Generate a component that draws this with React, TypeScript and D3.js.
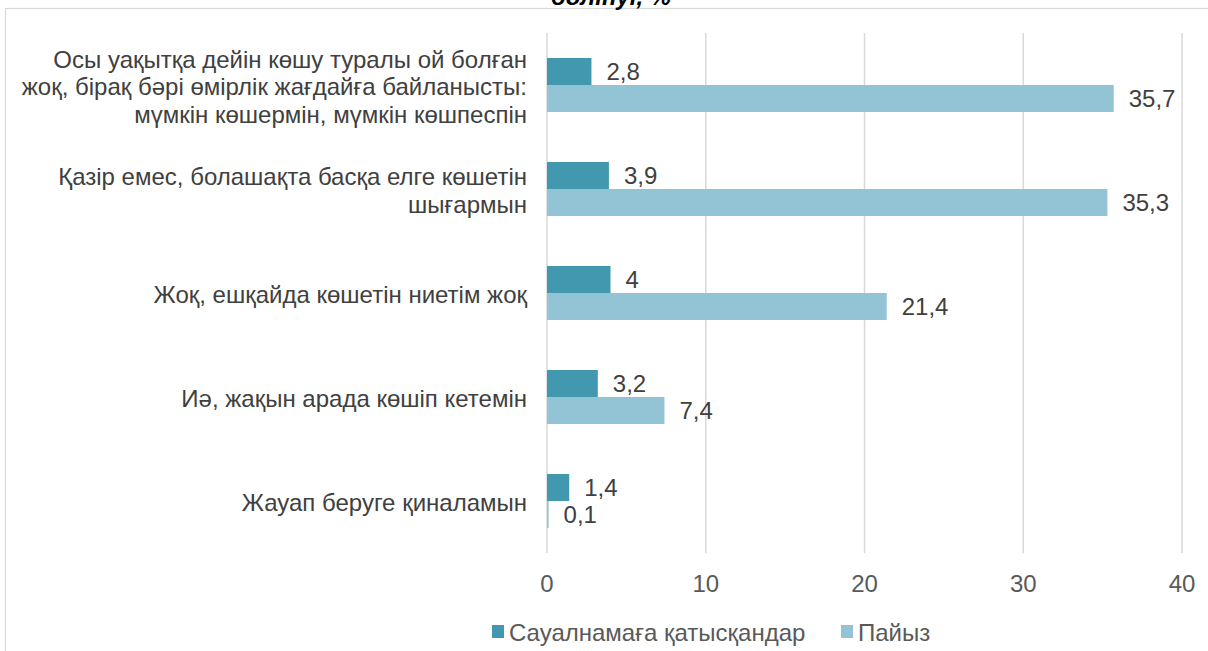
import * as d3 from "d3";

// категории сверху вниз
const categories = [
  ["Осы уақытқа дейін көшу туралы ой болған", "жоқ, бірақ бәрі өмірлік жағдайға байланысты:", "мүмкін көшермін, мүмкін көшпеспін"],
  ["Қазір емес, болашақта басқа елге көшетін", "шығармын"],
  ["Жоқ, ешқайда көшетін ниетім жоқ"],
  ["Иә, жақын арада көшіп кетемін"],
  ["Жауап беруге қиналамын"],
];
const respondents = [2.8, 3.9, 4, 3.2, 1.4];
const percent = [35.7, 35.3, 21.4, 7.4, 0.1];
const seriesNames = ["Сауалнамаға қатысқандар", "Пайыз"];
const xTicks = [0, 10, 20, 30, 40];
const colors = ["#4298ae", "#93c4d5"];

const W = 1208;
const H = 651;
const margin = { top: 33, left: 547, right: 26, bottom: 98 };

const fmt = (v: number) => String(v).replace(".", ",");

export default function App() {
  const innerW = W - margin.left - margin.right;
  const innerH = H - margin.top - margin.bottom;

  const x = d3.scaleLinear().domain([0, 40]).range([0, innerW]);
  const y = d3
    .scaleBand<number>()
    .domain(categories.map((_, i) => i))
    .range([0, innerH]);
  const barH = 27;

  const font = "'Liberation Sans', Arial, sans-serif";
  const fs = 24;

  return (
    <div style={{ position: "fixed", left: 0, top: 0 }}>
      <svg width={W} height={H} style={{ display: "block", fontFamily: font }}>
        <rect x={0} y={0} width={W} height={H} fill="#fff" />
        <rect x={5.5} y={8.5} width={1400} height={900} fill="none" stroke="#d9d9d9" strokeWidth={1.2} />
        <text x={611} y={5} textAnchor="middle" fontSize={fs} fontWeight="bold" fontStyle="italic" fill="#000">
          бөлінуі, %
        </text>
        <g transform={`translate(${margin.left},${margin.top})`}>
          {xTicks.map((t) => (
            <g key={t}>
              <line x1={x(t)} x2={x(t)} y1={0} y2={innerH} stroke="#d9d9d9" strokeWidth={1.5} />
              <text x={x(t)} y={innerH + 30} dy="0.36em" textAnchor="middle" fontSize={fs} fill="#595959">
                {t}
              </text>
            </g>
          ))}
          {categories.map((lines, i) => {
            const cy = (y(i) as number) + y.bandwidth() / 2;
            const lh = 27.5;
            const start = cy + 1.5 - ((lines.length - 1) * lh) / 2;
            return (
              <g key={i}>
                <rect x={x(0)} y={cy - barH} width={x(respondents[i]) - x(0)} height={barH} fill={colors[0]} />
                <rect x={x(0)} y={cy} width={Math.max(x(percent[i]) - x(0), 1)} height={barH} fill={colors[1]} />
                <text x={x(respondents[i]) + 15} y={cy - barH / 2} dy="0.36em" fontSize={fs} fill="#404040">
                  {fmt(respondents[i])}
                </text>
                <text x={x(percent[i]) + 15} y={cy + barH / 2} dy="0.36em" fontSize={fs} fill="#404040">
                  {fmt(percent[i])}
                </text>
                {lines.map((l, j) => (
                  <text key={j} x={-20} y={start + j * lh} dy="0.36em" textAnchor="end" fontSize={fs} fill="#404040">
                    {l}
                  </text>
                ))}
              </g>
            );
          })}
        </g>
        <g transform="translate(492,632)">
          <rect x={0} y={-7} width={12} height={13} fill={colors[0]} />
          <text x={17} y={0} dy="0.36em" fontSize={fs} fill="#595959">{seriesNames[0]}</text>
          <rect x={349} y={-7} width={12} height={13} fill={colors[1]} />
          <text x={366} y={0} dy="0.36em" fontSize={fs} fill="#595959">{seriesNames[1]}</text>
        </g>
      </svg>
    </div>
  );
}
